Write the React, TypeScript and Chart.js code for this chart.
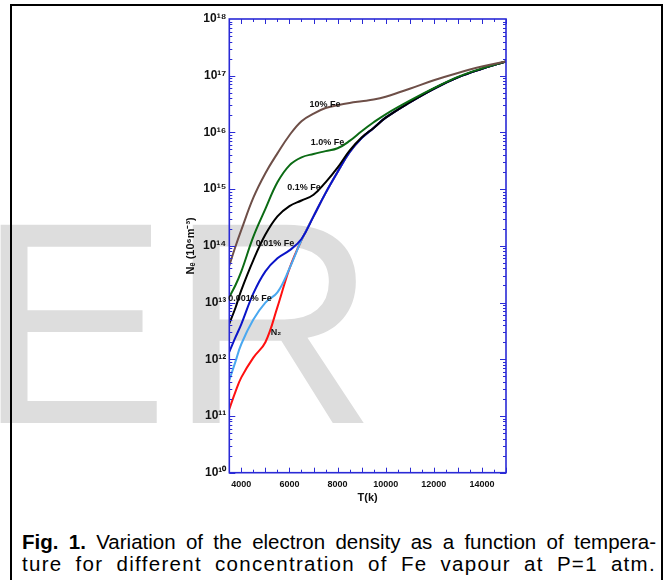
import React, { useEffect, useRef } from "react";
import { Chart, registerables } from "chart.js";

Chart.register(...registerables);

// Temperature grid (K)
const temperatures = [3500, 3750, 4000, 4500, 5000, 5500, 6000, 6500, 7000, 7500, 8000, 8500, 9000, 9500, 10000, 11000, 12000, 13000, 14000, 15000];

// Electron density (10^6 m^-3)
const fe10 = [4.47e13, 9.55e13, 1.91e14, 7.08e14, 1.91e15, 4.27e15, 8.91e15, 1.58e16, 2.14e16, 2.69e16, 3.02e16, 3.31e16, 3.55e16, 3.8e16, 4.27e16, 5.89e16, 8.32e16, 1.12e17, 1.45e17, 1.78e17];
const fe1 = [1.26e13, 2.0e13, 3.55e13, 1.45e14, 4.47e14, 1.32e15, 2.63e15, 3.63e15, 4.17e15, 4.68e15, 5.25e15, 7.08e15, 1.05e16, 1.51e16, 2.09e16, 3.63e16, 6.03e16, 9.55e16, 1.35e17, 1.78e17];
const fe01 = [4.27e12, 7.94e12, 1.66e13, 5.62e13, 1.58e14, 3.31e14, 5.01e14, 6.31e14, 7.94e14, 1.32e15, 2.4e15, 4.79e15, 8.13e15, 1.2e16, 1.82e16, 3.39e16, 5.89e16, 9.33e16, 1.32e17, 1.78e17];
const fe001 = [1.35e12, 2.4e12, 4.17e12, 1.45e13, 3.55e13, 6.03e13, 8.32e13, 1.32e14, 3.31e14, 8.51e14, 2.0e15, 4.47e15, 7.94e15, 1.2e16, 1.82e16, 3.39e16, 5.89e16, 9.33e16, 1.32e17, 1.78e17];
const fe0001 = [4.27e11, 8.91e11, 1.86e12, 5.01e12, 1.0e13, 1.51e13, 3.98e13, 1.26e14, 3.31e14, 8.51e14, 2.0e15, 4.47e15, 7.94e15, 1.2e16, 1.82e16, 3.39e16, 5.89e16, 9.33e16, 1.32e17, 1.78e17];
const n2 = [1.32e11, 2.63e11, 4.79e11, 1.07e12, 2.0e12, 8.32e12, 3.98e13, 1.26e14, 3.31e14, 8.51e14, 2.0e15, 4.47e15, 7.94e15, 1.2e16, 1.82e16, 3.39e16, 5.89e16, 9.33e16, 1.32e17, 1.78e17];

const seriesNames = ["10% Fe", "1.0% Fe", "0.1% Fe", "0.01% Fe", "0.001% Fe", "N₂"];
const seriesColors = ["#6e4f48", "#0b6b14", "#000000", "#0a14c8", "#4aa8f0", "#ff1010"];

// Curve annotations (text, anchor T, anchor Ne)
const labelTexts = ["10% Fe", "1.0% Fe", "0.1% Fe", "0.01% Fe", "0.001% Fe", "N₂"];
const labelT = [7477, 7581, 6605, 5400, 4360, 5444];
const labelN = [3.16e16, 6.76e15, 1.05e15, 1.12e14, 1.2e13, 3.0e12];

const xTickValues = [4000, 6000, 8000, 10000, 12000, 14000];
const yTickExponents = [10, 11, 12, 13, 14, 15, 16, 17, 18];

const xMin = 3500;
const xMax = 15000;

const SUP: Record<string, string> = { "0": "⁰", "1": "¹", "2": "²", "3": "³", "4": "⁴", "5": "⁵", "6": "⁶", "7": "⁷", "8": "⁸", "9": "⁹", "-": "⁻" };
const sup = (s: string) => s.split("").map((c) => SUP[c] || c).join("");

const AXIS_BLUE = "#2a2ad6";
const FONT = "'Liberation Sans', Arial, sans-serif";

const decorPlugin = {
  id: "decor",
  afterDatasetsDraw(chart: any) {
    const { ctx, chartArea: a, scales } = chart;
    const x = scales.x;
    const y = scales.y;
    ctx.save();
    ctx.strokeStyle = AXIS_BLUE;
    ctx.lineWidth = 1;
    const seg = (x1: number, y1: number, x2: number, y2: number) => {
      ctx.beginPath();
      ctx.moveTo(x1, y1);
      ctx.lineTo(x2, y2);
      ctx.stroke();
    };
    for (let t = xMin; t <= xMax; t += 500) {
      const px = Math.round(x.getPixelForValue(t)) + 0.5;
      const len = t % 1000 === 0 ? 5 : 3;
      seg(px, a.bottom, px, a.bottom - len);
      seg(px, a.top, px, a.top + len);
    }
    for (let e = yTickExponents[0]; e < yTickExponents[yTickExponents.length - 1]; e++) {
      for (let m = 1; m <= 9; m++) {
        const py = Math.round(y.getPixelForValue(m * Math.pow(10, e))) + 0.5;
        const len = m === 1 ? 6 : 3;
        seg(a.left, py, a.left + len, py);
        seg(a.right, py, a.right - len, py);
      }
    }
    ctx.lineWidth = 1.6;
    ctx.strokeRect(a.left, a.top, a.right - a.left, a.bottom - a.top);

    ctx.fillStyle = "#111";
    ctx.font = "bold 9px " + FONT;
    ctx.textAlign = "center";
    ctx.textBaseline = "middle";
    labelTexts.forEach((txt, i) => {
      const px = x.getPixelForValue(labelT[i]);
      const py = y.getPixelForValue(labelN[i]);
      ctx.fillText(txt, px, py);
    });
    ctx.restore();
  },
};

export default function App() {
  const canvasRef = useRef<HTMLCanvasElement | null>(null);

  useEffect(() => {
    if (!canvasRef.current) return;
    const seriesData = [fe10, fe1, fe01, fe001, fe0001, n2];
    const chart = new Chart(canvasRef.current, {
      type: "line",
      data: {
        datasets: seriesData.map((vals, i) => ({
          label: seriesNames[i],
          data: temperatures.map((t, j) => ({ x: t, y: vals[j] })),
          borderColor: seriesColors[i],
          backgroundColor: seriesColors[i],
          borderWidth: 2,
          pointRadius: 0,
          fill: false,
          tension: 0.4,
        })),
      },
      options: {
        animation: false,
        responsive: false,
        maintainAspectRatio: false,
        layout: { padding: { top: 19, right: 163, left: 0, bottom: 0 } },
        plugins: { legend: { display: false }, tooltip: { enabled: false } },
        scales: {
          x: {
            type: "linear",
            min: xMin,
            max: xMax,
            grid: { display: false, drawTicks: false },
            border: { display: false },
            afterBuildTicks: (s: any) => {
              s.ticks = xTickValues.map((v) => ({ value: v }));
            },
            afterFit: (s: any) => {
              s.height = 47.3;
            },
            ticks: {
              padding: 6,
              color: "#111",
              maxRotation: 0,
              font: { family: FONT, size: 9, weight: "bold" },
              callback: (v: any) => String(v),
            },
            title: {
              display: true,
              text: "T(k)",
              color: "#111",
              font: { family: FONT, size: 11, weight: "bold" },
              padding: { top: 0, bottom: 15 },
            },
          },
          y: {
            type: "logarithmic",
            min: Math.pow(10, yTickExponents[0]),
            max: Math.pow(10, yTickExponents[yTickExponents.length - 1]),
            grid: { display: false, drawTicks: false },
            border: { display: false },
            afterBuildTicks: (s: any) => {
              s.ticks = yTickExponents.map((e) => ({ value: Math.pow(10, e) }));
            },
            afterFit: (s: any) => {
              s.width = 229.3;
            },
            ticks: {
              padding: 3,
              color: "#111",
              font: { family: FONT, size: 12, weight: "bold" },
              callback: (v: any) => "10" + sup(String(Math.round(Math.log10(Number(v))))),
            },
            title: {
              display: true,
              text: "Nₑ (10" + sup("6") + "m" + sup("-3") + ")",
              color: "#111",
              font: { family: FONT, size: 11, weight: "bold" },
              padding: { top: 184, bottom: 0 },
            },
          },
        },
      },
      plugins: [decorPlugin],
    });
    return () => chart.destroy();
  }, []);

  return (
    <div style={{ position: "absolute", left: 0, top: 0, width: 669, height: 580, overflow: "hidden", background: "#fff" }}>
      <div
        style={{
          position: "absolute",
          left: -23,
          top: 179,
          fontFamily: FONT,
          fontSize: 288,
          lineHeight: 1,
          color: "#dddddd",
          whiteSpace: "nowrap",
        }}
      >
        ER
      </div>
      <div
        style={{
          position: "absolute",
          left: 10,
          top: 4,
          width: 653,
          height: 620,
          boxSizing: "border-box",
          border: "2px solid #000",
        }}
      />
      <canvas ref={canvasRef} width={669} height={520} style={{ position: "absolute", left: 0, top: 0, width: 669, height: 520 }} />
      <div
        style={{
          position: "absolute",
          left: 22,
          top: 531,
          width: 634,
          fontFamily: FONT,
          fontSize: 20.5,
          lineHeight: "22px",
          color: "#000",
        }}
      >
        <div style={{ whiteSpace: "nowrap", textAlign: "justify", textAlignLast: "justify" }}>
          <b>Fig. 1.</b> Variation of the electron density as a function of tempera-
        </div>
        <div style={{ textAlign: "justify", textAlignLast: "justify", letterSpacing: "1.3px" }}>
          ture for different concentration of Fe vapour at P=1 atm.
        </div>
      </div>
    </div>
  );
}
